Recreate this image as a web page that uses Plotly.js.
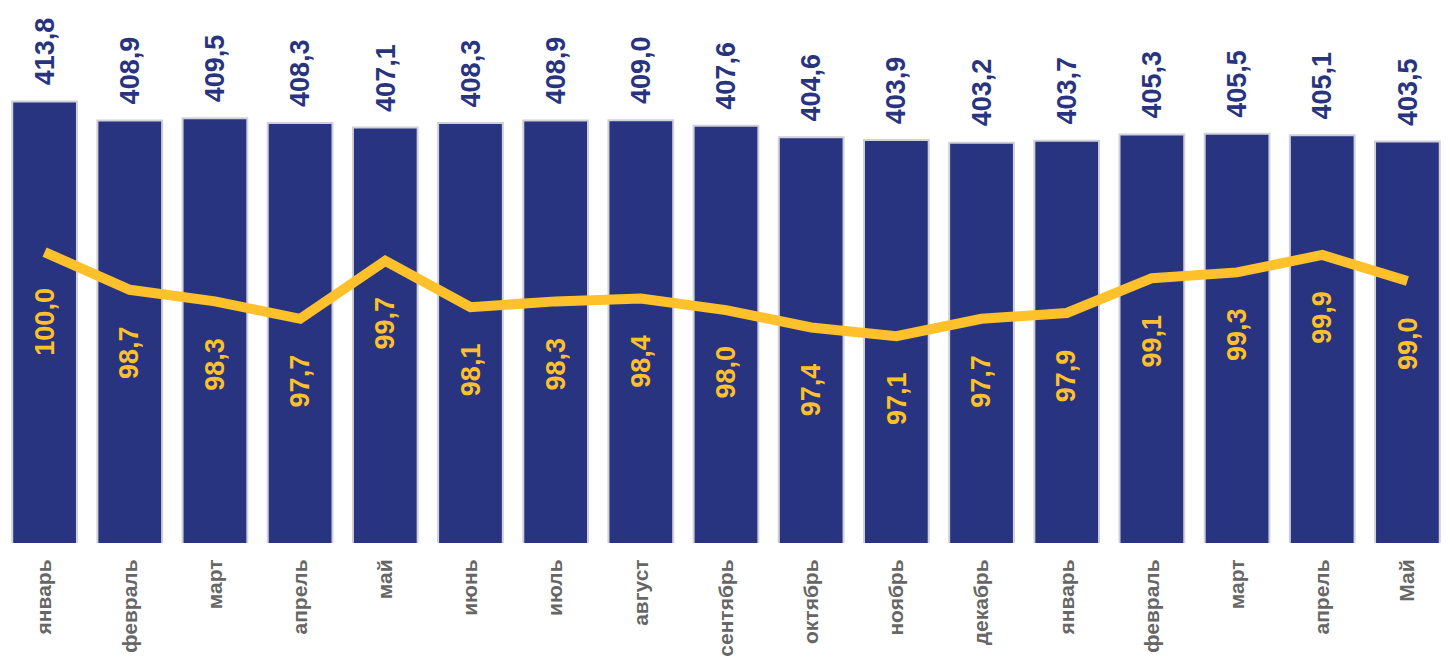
<!DOCTYPE html>
<html>
<head>
<meta charset="utf-8">
<script src="https://cdn.plot.ly/plotly-3.0.1.min.js"></script>
<style>html,body{margin:0;padding:0;background:#fff;}#chart{width:1450px;height:670px;}</style>
</head>
<body>
<div id="chart"></div>
<script>
const months = ["январь","февраль","март","апрель","май","июнь","июль","август","сентябрь","октябрь","ноябрь","декабрь","январь","февраль","март","апрель","Май"];
const barValues = [413.8,408.9,409.5,408.3,407.1,408.3,408.9,409.0,407.6,404.6,403.9,403.2,403.7,405.3,405.5,405.1,403.5];
const lineValues = [100.0,98.7,98.3,97.7,99.7,98.1,98.3,98.4,98.0,97.4,97.1,97.7,97.9,99.1,99.3,99.9,99.0];

const xIdx = months.map((m, i) => i);
const fmt = v => v.toFixed(1).replace('.', ',');
const FONT = '"Liberation Sans", Arial, sans-serif';
const NAVY = '#283480';
const GOLD = '#FFC12B';

const bars = {
  type: 'bar', x: xIdx, y: barValues,
  marker: {color: NAVY, line: {color: '#cfd0d8', width: 2}},
  hoverinfo: 'none', yaxis: 'y'
};
const line = {
  type: 'scatter', mode: 'lines', x: xIdx, y: lineValues,
  line: {color: GOLD, width: 10, shape: 'linear'},
  hoverinfo: 'none', yaxis: 'y2'
};

const annotations = [];
barValues.forEach((v, i) => {
  annotations.push({
    x: i, y: v, xref: 'x', yref: 'y', text: '<b>' + fmt(v) + '</b>',
    textangle: -90, showarrow: false, xanchor: 'center', yanchor: 'bottom', yshift: 14,
    font: {family: FONT, size: 27, color: NAVY}
  });
});
lineValues.forEach((v, i) => {
  annotations.push({
    x: i, y: v, xref: 'x', yref: 'y2', text: '<b>' + fmt(v) + '</b>',
    textangle: -90, showarrow: false, xanchor: 'center', yanchor: 'top', yshift: -34,
    font: {family: FONT, size: 27, color: GOLD}
  });
});

const layout = {
  width: 1450, height: 670,
  margin: {l: 2, r: 0, t: 0, b: 127, pad: 0},
  paper_bgcolor: '#ffffff', plot_bgcolor: '#ffffff',
  showlegend: false, bargap: 0.24,
  xaxis: {
    tickmode: 'array', tickvals: xIdx, ticktext: months.map(m => '<b>' + m + '</b>'),
    tickangle: -90, tickfont: {family: FONT, size: 21, color: '#666666'},
    showgrid: false, zeroline: false, showline: false,
    ticks: 'outside', ticklen: 7, tickcolor: 'rgba(0,0,0,0)',
    range: [-0.5, 16.5]
  },
  yaxis: {range: [300, 440], visible: false, showgrid: false, zeroline: false},
  yaxis2: {range: [89.97, 108.69], overlaying: 'y', visible: false, showgrid: false, zeroline: false},
  annotations: annotations
};

Plotly.newPlot('chart', [bars, line], layout, {displayModeBar: false, staticPlot: true});
</script>
</body>
</html>
